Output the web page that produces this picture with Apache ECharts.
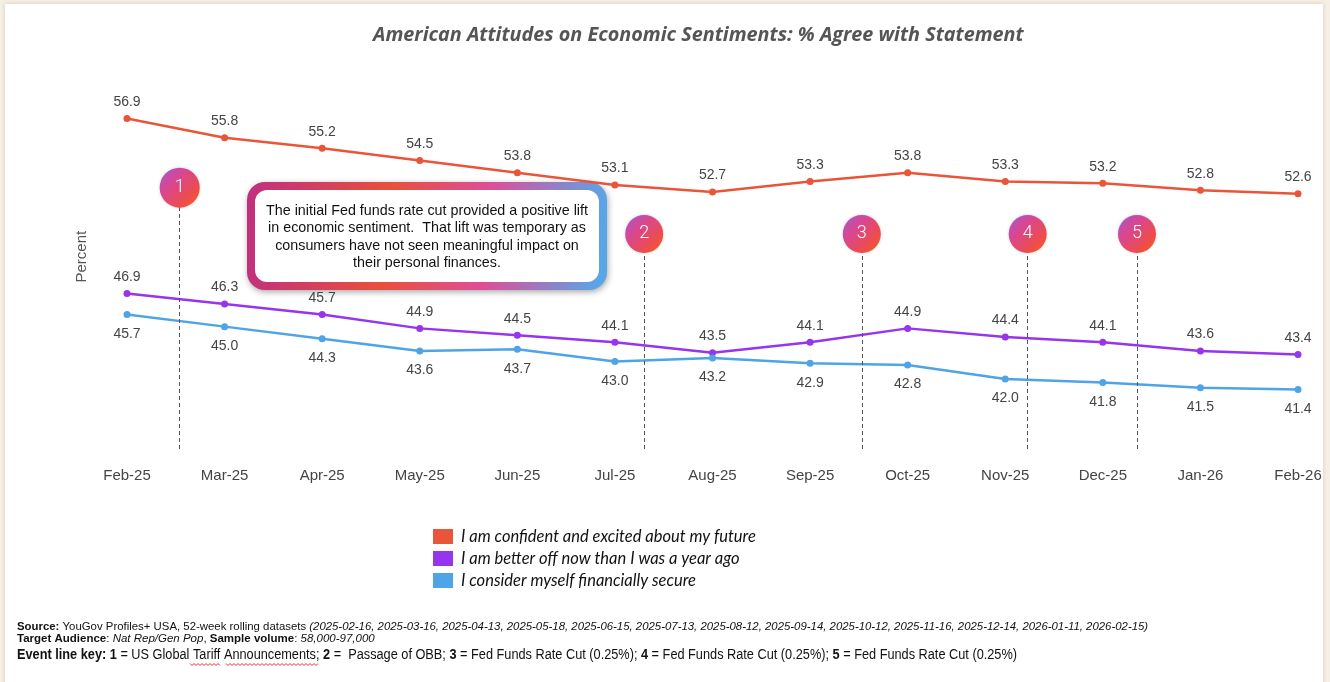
<!DOCTYPE html>
<html><head><meta charset="utf-8">
<script src="https://cdn.jsdelivr.net/npm/echarts@6/dist/echarts.min.js"></script>
<style>html,body{margin:0;padding:0;background:#f6efe5;}#c{position:absolute;left:0;top:0;width:1330px;height:682px;}</style>
</head><body><div id="c"></div>
<script>
const categories = ['Feb-25','Mar-25','Apr-25','May-25','Jun-25','Jul-25','Aug-25','Sep-25','Oct-25','Nov-25','Dec-25','Jan-26','Feb-26'];
const seriesNames = ['I am confident and excited about my future','I am better off now than I was a year ago','I consider myself financially secure'];
const confident = [56.9,55.8,55.2,54.5,53.8,53.1,52.7,53.3,53.8,53.3,53.2,52.8,52.6];
const betterOff = [46.9,46.3,45.7,44.9,44.5,44.1,43.5,44.1,44.9,44.4,44.1,43.6,43.4];
const secure = [45.7,45.0,44.3,43.6,43.7,43.0,43.2,42.9,42.8,42.0,41.8,41.5,41.4];
const eventLabels = ['1','2','3','4','5'];
const eventPos = [0.54,5.30,7.53,9.23,10.35];
const eventMarkerY = [52.95,50.3,50.3,50.3,50.3];
const annotationText = 'The initial Fed funds rate cut provided a positive lift\nin economic sentiment.  That lift was temporary as\nconsumers have not seen meaningful impact on\ntheir personal finances.';

const colors = ['#ea5539','#9634ee','#4ea4e6'];
const font = '"Liberation Sans", Arial, sans-serif';
const chart = echarts.init(document.getElementById('c'));

const circleGrad = new echarts.graphic.LinearGradient(0,0,1,1,[
  {offset:0,color:'#a15ad0'},{offset:0.35,color:'#d9468f'},{offset:0.75,color:'#ee4d48'},{offset:1,color:'#f6621c'}]);

function lineSeries(name, data, idx, pos, dist){
  return {name, type:'line', data, xAxisIndex:0, yAxisIndex:0,
    symbol:'circle', symbolSize:7, smooth:false,
    lineStyle:{width:2.5,color:colors[idx]}, itemStyle:{color:colors[idx]},
    label:{show:true, position:pos, distance:dist, color:'#444', fontSize:14, fontFamily:font,
      formatter:p=>p.value.toFixed(1)}, z:3};
}

const eventData = eventPos.map((x,i)=>({value:[x,eventMarkerY[i]], label:{formatter:eventLabels[i]}, symbolSize: i===0?40:38}));
const eventLines = eventPos.map((x,i)=>[{coord:[x,38]},{coord:[x,eventMarkerY[i]]}]);

const wavy = (x0, x1, y) => { const pts=[]; for(let x=x0, k=0; x<=x1; x+=2, k++) pts.push([x, y + (k%2?1.5:-0.5)]); return pts; };

const option = {
  backgroundColor:'transparent',
  animation:false,
  title:{text:'American Attitudes on Economic Sentiments: % Agree with Statement', left:368, top:20,
    textStyle:{fontFamily:'"Open Sans", sans-serif', fontStyle:'italic', fontWeight:'bold', fontSize:19.8, color:'#555'}},
  grid:{left:127, right:32, top:64.4, bottom:233},
  xAxis:[
    {type:'category', data:categories, boundaryGap:false,
      axisLine:{show:false}, axisTick:{show:false}, splitLine:{show:false},
      axisLabel:{color:'#444', fontSize:15, fontFamily:font, margin:19}},
    {type:'value', min:0, max:12, show:false}
  ],
  yAxis:[{type:'value', min:38, max:60, axisLine:{show:false}, axisTick:{show:false}, splitLine:{show:false},
    axisLabel:{show:false}, name:'Percent', nameLocation:'middle', nameGap:38, nameRotate:90,
    nameTextStyle:{color:'#555', fontSize:15, fontFamily:font}}],
  legend:{orient:'vertical', left:428, top:523, itemWidth:20, itemHeight:15, itemGap:5, icon:'rect',
    data:seriesNames,
    textStyle:{fontFamily:'Lato, sans-serif', fontStyle:'italic', fontSize:16.5, color:'#111', padding:[0,0,0,3]}},
  series:[
    lineSeries(seriesNames[0], confident, 0, 'top', 6),
    lineSeries(seriesNames[1], betterOff, 1, 'top', 6),
    lineSeries(seriesNames[2], secure, 2, 'bottom', 9),
    {type:'scatter', name:'events', xAxisIndex:1, yAxisIndex:0, data:eventData, z:5,
      itemStyle:{color:circleGrad, opacity:1, shadowBlur:3, shadowColor:'rgba(0,0,0,0.2)'},
      label:{show:true, position:'inside', color:'#fff', fontSize:18, fontFamily:'Roboto, sans-serif', fontWeight:300},
      markLine:{symbol:'none', silent:true, label:{show:false}, animation:false,
        lineStyle:{color:'#555', width:1, type:[4,3]}, data:eventLines}, emphasis:{disabled:true}}
  ],
  graphic:[
    {type:'rect', z:-10, silent:true, shape:{x:5,y:4,width:1318,height:690}, style:{fill:'#fff', shadowBlur:4, shadowColor:'rgba(120,100,80,0.25)'}},
    {type:'group', left:247, top:182, z:10, children:[
      {type:'rect', shape:{x:0,y:0,width:360,height:108,r:18},
        style:{fill:new echarts.graphic.LinearGradient(0,0,1,0.3,[
          {offset:0,color:'#c02f80'},{offset:0.4,color:'#e8503c'},{offset:0.68,color:'#dc4f9a'},{offset:1,color:'#57a7e8'}]),
          shadowBlur:6, shadowOffsetX:1, shadowOffsetY:2, shadowColor:'rgba(0,0,0,0.35)'}},
      {type:'rect', shape:{x:8,y:8,width:344,height:92,r:12}, style:{fill:'#fff'}},
      {type:'text', x:180, y:55, style:{text:annotationText, fill:'#111', font:'14.3px "Liberation Sans", Arial, sans-serif', align:'center', verticalAlign:'middle', lineHeight:17.3}}
    ]},
    {type:'text', x:17, y:621, style:{
      text:'{b|Source:} YouGov Profiles+ USA, 52-week rolling datasets {i|(2025-02-16, 2025-03-16, 2025-04-13, 2025-05-18, 2025-06-15, 2025-07-13, 2025-08-12, 2025-09-14, 2025-10-12, 2025-11-16, 2025-12-14, 2026-01-11, 2026-02-15)}',
      fill:'#111', font:'11.5px "Liberation Sans", Arial, sans-serif',
      rich:{b:{fontWeight:'bold',fontSize:11.5,fontFamily:font,fill:'#111'}, i:{fontStyle:'italic',fontSize:11.5,fontFamily:font,fill:'#111'}}}, scaleX:0.99},
    {type:'text', x:17, y:633, style:{
      text:'{b|Target Audience}: {i|Nat Rep/Gen Pop}, {b|Sample volume}: {i|58,000-97,000}',
      fill:'#111', font:'11.5px "Liberation Sans", Arial, sans-serif',
      rich:{b:{fontWeight:'bold',fontSize:11.5,fontFamily:font,fill:'#111'}, i:{fontStyle:'italic',fontSize:11.5,fontFamily:font,fill:'#111'}}}},
    {type:'text', x:17, y:648, scaleX:0.91, style:{
      text:'{b|Event line key: 1} = US Global Tariff Announcements; {b|2} =  Passage of OBB; {b|3} = Fed Funds Rate Cut (0.25%); {b|4} = Fed Funds Rate Cut (0.25%); {b|5} = Fed Funds Rate Cut (0.25%)',
      fill:'#111', font:'14px "Liberation Sans", Arial, sans-serif',
      rich:{b:{fontWeight:'bold',fontSize:14,fontFamily:font,fill:'#111'}}}},
    {type:'polyline', shape:{points:wavy(190,220,664)}, style:{stroke:'#e0362f', lineWidth:1, fill:null}},
    {type:'polyline', shape:{points:wavy(226,318,664)}, style:{stroke:'#e0362f', lineWidth:1, fill:null}}
  ]
};
chart.setOption(option);
</script></body></html>
